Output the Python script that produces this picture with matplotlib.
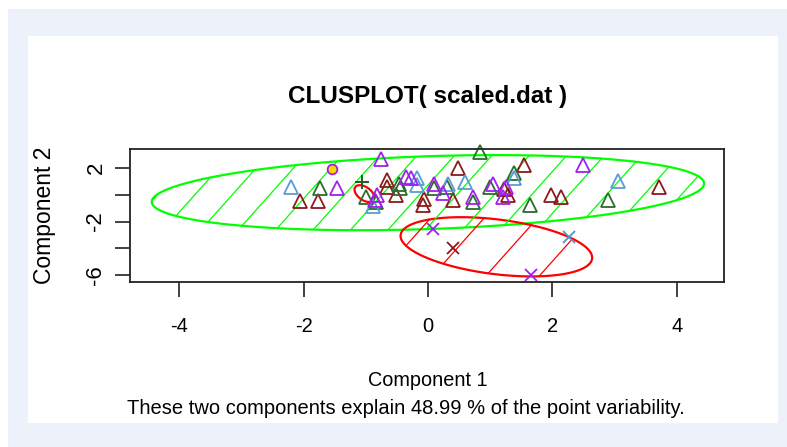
import numpy as np
import matplotlib.pyplot as plt
from matplotlib.patches import Rectangle, Polygon

plt.rcParams['font.family'] = ['Liberation Sans', 'DejaVu Sans']

# points, grouped by colour and symbol (Component 1, Component 2)
red_x = [-2.05, -1.77, -0.66, -0.66, -0.52, -0.07, -0.08, 0.48, 0.40, 1.23, 1.28, 1.55, 1.98, 2.14, 3.72]
red_y = [-0.49, -0.49, 1.08, 0.58, -0.04, -0.30, -0.78, 1.95, -0.41, 0.40, 0.00, 2.20, -0.04, -0.21, 0.58]
green_x = [-1.74, -0.99, -0.83, -0.47, -0.45, 0.10, 0.30, 0.72, 0.83, 1.00, 1.39, 1.64, 2.89]
green_y = [0.46, -0.16, -0.54, 0.83, 0.50, 0.46, 0.60, -0.54, 3.20, 0.55, 1.58, -0.78, -0.41]
blue_x = [-2.20, -0.88, -0.17, -0.17, 0.32, 0.59, 1.39, 3.06]
blue_y = [0.58, -0.85, 1.25, 0.70, 0.83, 0.96, 1.21, 1.03]
purple_x = [-1.46, -0.75, -0.82, -0.85, -0.35, -0.27, 0.10, 0.24, 0.72, 1.04, 1.25, 1.20, 2.49]
purple_y = [0.46, 2.65, -0.04, -0.40, 1.33, 1.21, 0.83, 0.09, -0.16, 0.83, 0.60, -0.20, 2.20]

cross_x = [0.08, 0.40, 2.27, 1.66]
cross_y = [-2.52, -3.94, -3.15, -6.00]
cross_col = ['#A020F0', '#8B1A1A', '#4F94CD', '#A020F0']

plus_x, plus_y = [-1.06], [0.91]
circle_x, circle_y = [-1.55], [1.90]

# cluster ellipses: centre, x half-axis, tilt, y half-axis
ell_green = dict(cx=0.0, cy=0.15, ax=4.44, ay=0.685, by=2.71)
ell_red = dict(cx=1.1, cy=-3.88, ax=1.54, ay=-0.81, by=2.05)
ell_small = dict(cx=-1.02, cy=0.08, ax=0.16, ay=-0.30, by=0.55)

xticks = [-4, -2, 0, 2, 4]
yticks = [2, 0, -2, -4, -6]
ytick_labels = ['2', '', '-2', '', '-6']


def ellipse_xy(e):
    t = np.linspace(0, 2 * np.pi, 200)
    x = e['cx'] + e['ax'] * np.cos(t)
    y = e['cy'] + e['ay'] * np.cos(t) + e['by'] * np.sin(t)
    return np.column_stack([x, y])


fig = plt.figure(figsize=(7.87, 4.47), dpi=100)
fig.patch.set_facecolor('white')
fig.add_artist(Rectangle((8 / 787, 0), 779 / 787, 438 / 447, transform=fig.transFigure,
                         facecolor='#EDF2FA', edgecolor='none', zorder=-2))
fig.add_artist(Rectangle((28 / 787, 24 / 447), 750 / 787, 387 / 447, transform=fig.transFigure,
                         facecolor='white', edgecolor='none', zorder=-1))

ax = fig.add_axes([130 / 787, 165 / 447, 594 / 787, 133 / 447])
ax.set_xlim(-4.79, 4.76)
ax.set_ylim(-6.5, 3.4)

# ellipses with shading lines
for e, col, step in [(ell_green, '#00FF00', 0.063), (ell_red, '#FF0000', 0.09)]:
    poly = Polygon(ellipse_xy(e), closed=True, fill=False, edgecolor=col, lw=1.6)
    ax.add_patch(poly)
    for c in np.arange(-0.4, 1.2, step):
        ln, = ax.plot([c, c + 0.2], [0, 1], transform=ax.transAxes, color=col, lw=0.9)
        ln.set_clip_path(poly)
ax.add_patch(Polygon(ellipse_xy(ell_small), closed=True, fill=False, edgecolor='#FF0000', lw=1.6))

tri = dict(linestyle='none', marker='^', markerfacecolor='none', ms=10, mew=1.3, clip_on=False)
ax.plot(red_x, red_y, color='#8B1A1A', **tri)
ax.plot(green_x, green_y, color='#2E6B2E', **tri)
ax.plot(blue_x, blue_y, color='#5B9BD5', **tri)
ax.plot(purple_x, purple_y, color='#A020F0', **tri)
for x, y, c in zip(cross_x, cross_y, cross_col):
    ax.plot(x, y, linestyle='none', marker='x', color=c, ms=8.5, mew=1.3, clip_on=False)
ax.plot(plus_x, plus_y, linestyle='none', marker='+', color='#1B5E20', ms=10, mew=1.4)
ax.plot(circle_x, circle_y, linestyle='none', marker='o', mfc='#FFD700', mec='#A020F0', ms=7, mew=1.3)

ax.set_xticks(xticks)
ax.set_xticklabels([str(v) for v in xticks], fontsize=14.5)
ax.set_yticks(yticks)
ax.set_yticklabels(ytick_labels, fontsize=16, rotation=90, va='center')
ax.tick_params(length=11, width=1.3, color='#333333')
ax.tick_params(axis='x', pad=14)
ax.tick_params(axis='y', pad=6)
for s in ax.spines.values():
    s.set_linewidth(1.3)
    s.set_color('#222222')

fig.text(428 / 787, 1 - 96 / 447, 'CLUSPLOT( scaled.dat )', ha='center', va='center',
         fontsize=17.5, fontweight='bold')
fig.text(428 / 787, 1 - 381 / 447, 'Component 1', ha='center', va='center', fontsize=14.3)
fig.text(406 / 787, 1 - 408 / 447, 'These two components explain 48.99 % of the point variability.',
         ha='center', va='center', fontsize=14.5)
fig.text(45 / 787, 1 - 215 / 447, 'Component 2', ha='center', va='center', rotation=90, fontsize=16.5)

fig.savefig('out.png', dpi=100)
